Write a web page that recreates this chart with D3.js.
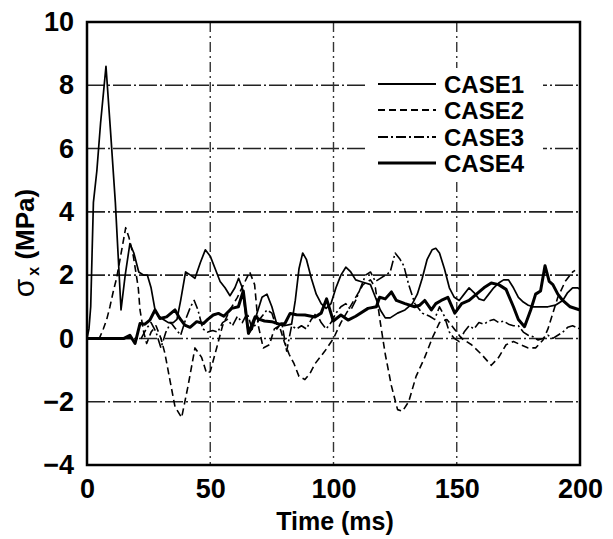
<!DOCTYPE html>
<html><head><meta charset="utf-8">
<script src="https://cdn.jsdelivr.net/npm/d3@7/dist/d3.min.js"></script>
<style>
html,body{margin:0;padding:0;background:#fff;}
svg{display:block;}
text{font-family:"Liberation Sans",Arial,sans-serif;font-weight:bold;fill:#000;}
</style></head>
<body>
<svg id="chart" width="613" height="539"></svg>
<script>
// ---- data ----
const xTicks = [0, 50, 100, 150, 200];
const yTicks = [-4, -2, 0, 2, 4, 6, 8, 10];
const seriesNames = ["CASE1", "CASE2", "CASE3", "CASE4"];

const case1T = [0,0.8,1.5,2.6,4,5.5,7.7,9.5,11.5,13.8,15.5,17.4,19,21,23,24.5,26,27.6,29,31,33,35,36.5,38,40,42,43.8,46,48,50,52,54,56,58,60,61.5,63,64,65.5,67,69,71,73,75,77,80,83,84.5,86,87.5,89,91,93,95,97,99,101,103,105,107,109,111,113,115,117,119,121,123,126,129,132,134,136,138,140,141.5,143,145,147,149,151,153,155,157,159,161,163,165,167,169,171,173,175,177,179,181,184,187,190,193,195,197,199,200];
const case1V = [0,0.3,1.0,4.3,5.3,6.8,8.6,6.6,4.3,0.9,2.0,3.0,2.7,2.1,2.0,2.0,1.6,0.9,0.7,0.6,0.5,0.5,0.6,1.2,2.1,2.0,1.9,2.4,2.8,2.6,2.2,1.8,1.6,1.35,1.6,1.9,1.6,1.0,0.15,0.3,0.8,1.3,1.4,1.0,0.45,0.4,0.45,1.2,2.2,2.7,2.5,1.9,1.4,1.1,0.95,1.1,1.6,2.0,2.25,2.1,1.85,1.8,1.75,1.7,1.3,0.9,0.65,0.65,0.8,0.9,1.1,1.4,1.9,2.5,2.8,2.85,2.7,2.2,1.6,1.3,1.2,1.4,1.6,1.45,1.25,1.2,1.4,1.6,1.75,1.85,1.85,1.6,1.3,1.15,1.05,1.0,1.0,1.0,1.05,1.2,1.45,1.6,1.6,1.55];

const case2T = [0,5,6.6,8,9.3,10.7,12,13.4,15.7,17,18.8,20.8,21.5,23,24.2,26,28,30,31.6,33.6,35.7,38.4,41,43.8,46.5,48.5,50,52.6,55,58,61,63.5,66,68,69.5,71.5,74,76,78,80,82,84,86,88.4,90.5,92.5,96.5,100,103,106,109,112,115,117,119,121,123.5,126,128,130.5,133.5,137,140,143,146,149,152,156,160,164,167,170,173,176,179,182,185,187,189,191,194,197,198];
const case2V = [0,0,0.3,0.6,1.0,1.5,1.9,2.5,3.5,3.2,2.6,1.6,0.9,0.2,-0.16,0.2,0.4,0.0,-0.47,-1.3,-2.16,-2.5,-1.5,-0.3,-0.6,-1.1,-1.05,-0.3,0.4,0.9,1.3,1.7,2.1,1.7,0.4,-0.3,-0.2,0.3,0.4,-0.1,-0.5,-0.8,-1.2,-1.3,-1.1,-0.8,-0.4,0.0,0.5,0.9,1.3,1.7,1.85,1.6,0.5,-0.5,-1.5,-2.25,-2.3,-2.0,-1.2,-0.6,0.0,0.5,0.6,0.3,0.0,-0.2,-0.5,-0.85,-0.6,-0.2,-0.1,-0.2,-0.3,-0.3,-0.05,0.3,0.8,1.3,1.8,2.1,2.15];

const case3T = [0,22,24,26,28,30,32,34,36,38,40,42,43.5,45,47,49,51,53,55,57,59,61,63,65,67,69,71,73,75,77,79,81,83,85,87,89,91,93,95,97,99,101,103,105,107,109,111,113,115,117,119,121,123,125,127,128.5,130.5,133,136,139,141,143,145,147,149,151,153,155,157,159,161,163,165,167,169,171,173,175,177,179,181,183,185,187,189,191,193,195,197,200];
const case3V = [0,0,0.3,0.5,0.2,-0.3,0.2,0.5,0.3,0.1,0.6,1.0,1.2,0.9,0.3,0.2,0.25,0.2,0.5,0.6,0.4,0.7,0.5,0.8,0.3,0.5,0.7,0.9,0.8,0.3,0.5,-0.4,0.4,0.3,0.4,0.3,0.6,0.8,0.5,0.3,0.5,0.8,1.0,1.1,0.9,1.2,1.6,2.0,2.1,1.8,1.9,2.0,2.1,2.7,2.5,2.3,1.7,1.1,0.8,0.7,0.6,1.0,0.7,0.2,0.0,-0.1,0.2,0.4,0.3,0.5,0.45,0.55,0.6,0.5,0.55,0.45,0.4,0.4,0.2,0.1,0.05,-0.05,0.0,0.1,0.0,0.1,0.2,0.35,0.4,0.3];

const case4T = [0,15,17.4,19.5,21.5,23.5,25.5,27.6,29.6,32.3,35.7,37.5,39.7,41.8,44.5,47.2,49,51.2,53.3,55.5,58.7,61.4,63.4,65.5,68.2,70,72,74.9,78,80.3,82.4,85,88.4,92.5,95,97.2,99.9,103,105.9,109,114,117.4,118.7,121,123.5,125.5,129,132.9,135,137,139.7,141.5,143.7,146.4,149.2,152,155,158,161,164,167,170,173,175,177.5,180,182,184,185.8,187.5,189,191,193,196,200];
const case4V = [0,0,0.1,-0.16,0.47,0.45,0.58,0.9,0.63,0.68,0.9,0.65,0.42,0.35,0.53,0.47,0.6,0.74,0.79,0.7,0.95,1.0,1.5,0.16,0.68,0.6,0.55,0.53,0.45,0.47,0.79,0.75,0.74,0.68,0.8,1.25,0.55,0.74,0.58,0.7,0.95,1.0,1.3,1.25,1.47,1.2,1.1,1.0,1.05,1.2,0.9,1.1,1.2,1.3,0.8,1.1,1.2,1.4,1.6,1.75,1.7,1.55,1.0,0.6,0.37,0.9,1.4,1.5,2.3,1.8,1.7,1.4,1.2,1.0,0.9];

const seriesT = [case1T, case2T, case3T, case4T];
const seriesV = [case1V, case2V, case3V, case4V];
const seriesWidth = [1.7, 1.6, 1.6, 3];
const seriesDash = [null, "7,4", "10,3,2,3", null];

// ---- layout ----
const svg = d3.select("#chart");
const L = 87, R = 580, T = 22, B = 465;
const x = d3.scaleLinear().domain([0, 200]).range([L, R]);
const y = d3.scaleLinear().domain([-4, 10]).range([B, T]);

// grid
const grid = svg.append("g");
grid.selectAll("line.h").data(yTicks.filter(d => d > -4 && d < 10)).enter().append("line")
  .attr("x1", L).attr("x2", R).attr("y1", d => y(d)).attr("y2", d => y(d))
  .attr("stroke", "#222").attr("stroke-width", 1.6).attr("stroke-dasharray", "18,3,2,3");
grid.selectAll("line.v").data(xTicks.filter(d => d > 0 && d < 200)).enter().append("line")
  .attr("y1", T).attr("y2", B).attr("x1", d => x(d)).attr("x2", d => x(d))
  .attr("stroke", "#333").attr("stroke-width", 1.4).attr("stroke-dasharray", "10,4,2,4");

// legend background hides grid
svg.append("rect").attr("x", 365).attr("y", 68).attr("width", 178).attr("height", 112).attr("fill", "#fff");

// series
const line = d3.line().x(d => x(d[0])).y(d => y(d[1]));
seriesT.forEach((ts, i) => {
  const pts = ts.map((t, j) => [t, seriesV[i][j]]);
  svg.append("path").datum(pts).attr("d", line)
    .attr("fill", "none").attr("stroke", "#000")
    .attr("stroke-width", seriesWidth[i])
    .attr("stroke-linejoin", "round")
    .attr("stroke-dasharray", seriesDash[i]);
});

// frame
svg.append("rect").attr("x", L).attr("y", T).attr("width", R - L).attr("height", B - T)
  .attr("fill", "none").attr("stroke", "#000").attr("stroke-width", 2.5);

// axes (labels only)
const yAxis = d3.axisLeft(y).tickValues(yTicks).tickSize(0).tickPadding(13)
  .tickFormat(d => d < 0 ? "\u2212" + Math.abs(d) : d);
const gy = svg.append("g").attr("transform", `translate(${L},0)`).call(yAxis);
gy.select(".domain").remove();
gy.selectAll("text").style("font-size", "27px").style("font-family", "Liberation Sans, Arial, sans-serif").style("font-weight", "bold");

const xAxis = d3.axisBottom(x).tickValues(xTicks).tickSize(0).tickPadding(14);
const gx = svg.append("g").attr("transform", `translate(0,${B})`).call(xAxis);
gx.select(".domain").remove();
gx.selectAll("text").style("font-size", "27px").style("font-family", "Liberation Sans, Arial, sans-serif").style("font-weight", "bold");

// axis titles
svg.append("text").attr("x", 335).attr("y", 530).attr("text-anchor", "middle")
  .style("font-size", "25px").text("Time (ms)");
const yl = svg.append("text").attr("transform", "translate(34,243) rotate(-90)")
  .attr("text-anchor", "middle").style("font-size", "26px");
yl.append("tspan").style("font-weight", "normal").style("font-size", "30px").text("\u03c3");
yl.append("tspan").attr("dy", 5).attr("dx", 3).style("font-size", "16px").text("x");
yl.append("tspan").attr("dy", -5).text(" (MPa)");

// legend
const legY = [84, 110, 137, 163];
seriesNames.forEach((n, i) => {
  svg.append("line").attr("x1", 378).attr("x2", 436).attr("y1", legY[i]).attr("y2", legY[i])
    .attr("stroke", "#000").attr("stroke-width", i === 3 ? 3 : 2).attr("stroke-dasharray", seriesDash[i]);
  svg.append("text").attr("x", 444).attr("y", legY[i]).attr("dy", "0.36em")
    .style("font-size", "24px").text(n);
});
</script>
</body></html>
